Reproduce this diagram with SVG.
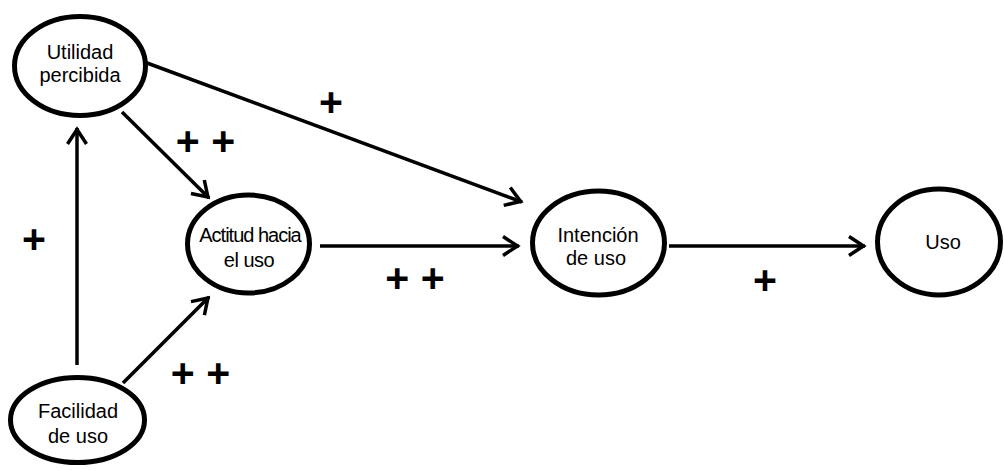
<svg xmlns="http://www.w3.org/2000/svg" width="1004" height="470" viewBox="0 0 1004 470">
<style>
.node{fill:#fff;stroke:#000;stroke-width:5}
.lbl{font-family:"Liberation Sans",Arial,sans-serif;font-size:20px;fill:#000;text-anchor:middle}
.conn{stroke:#000;stroke-width:3.5;fill:none}
.plus{font-family:"Liberation Sans",Arial,sans-serif;font-size:41px;font-weight:bold;fill:#000;text-anchor:middle}
</style>
<defs>
<marker id="arr" markerUnits="userSpaceOnUse" viewBox="-20 -12 24 24" refX="0" refY="0" markerWidth="24" markerHeight="24" orient="auto">
<path d="M-16,-9.5 L-1.5,0 L-16,9.5" fill="none" stroke="#000" stroke-width="3.5"/>
</marker>
</defs>
<rect width="1004" height="470" fill="#fff"/>
<g id="connectors">
<line class="conn" x1="77" y1="365" x2="77" y2="128" marker-end="url(#arr)"/>
<line class="conn" x1="123" y1="383" x2="209" y2="297" marker-end="url(#arr)"/>
<line class="conn" x1="122" y1="112" x2="209" y2="198" marker-end="url(#arr)"/>
<line class="conn" x1="147" y1="63" x2="522" y2="202" marker-end="url(#arr)"/>
<line class="conn" x1="320" y1="246" x2="519" y2="246" marker-end="url(#arr)"/>
<line class="conn" x1="669" y1="246" x2="865" y2="246" marker-end="url(#arr)"/>
</g>
<g id="utilidad">
<ellipse class="node" cx="80" cy="66" rx="65.5" ry="49.5"/>
<text class="lbl" x="80" y="59">Utilidad</text>
<text class="lbl" x="80" y="82">percibida</text>
</g>
<g id="actitud">
<ellipse class="node" cx="248.5" cy="244" rx="61" ry="49"/>
<text class="lbl" x="250" y="242" letter-spacing="-1">Actitud hacia</text>
<text class="lbl" x="249" y="267" letter-spacing="-0.5">el uso</text>
</g>
<g id="intencion">
<ellipse class="node" cx="598.5" cy="243" rx="66" ry="52"/>
<text class="lbl" x="598" y="242">Intención</text>
<text class="lbl" x="596" y="265">de uso</text>
</g>
<g id="uso">
<ellipse class="node" cx="939" cy="242" rx="61.5" ry="53"/>
<text class="lbl" x="943" y="249">Uso</text>
</g>
<g id="facilidad">
<ellipse class="node" cx="77.5" cy="420" rx="67" ry="42.5"/>
<text class="lbl" x="78" y="418">Facilidad</text>
<text class="lbl" x="78" y="443">de uso</text>
</g>
<g id="labels">
<text class="plus" x="34" y="253">+</text>
<text class="plus" x="205.5" y="155">+ +</text>
<text class="plus" x="331" y="116">+</text>
<text class="plus" x="200.5" y="387">+ +</text>
<text class="plus" x="415" y="292">+ +</text>
<text class="plus" x="765" y="294">+</text>
</g>
</svg>
